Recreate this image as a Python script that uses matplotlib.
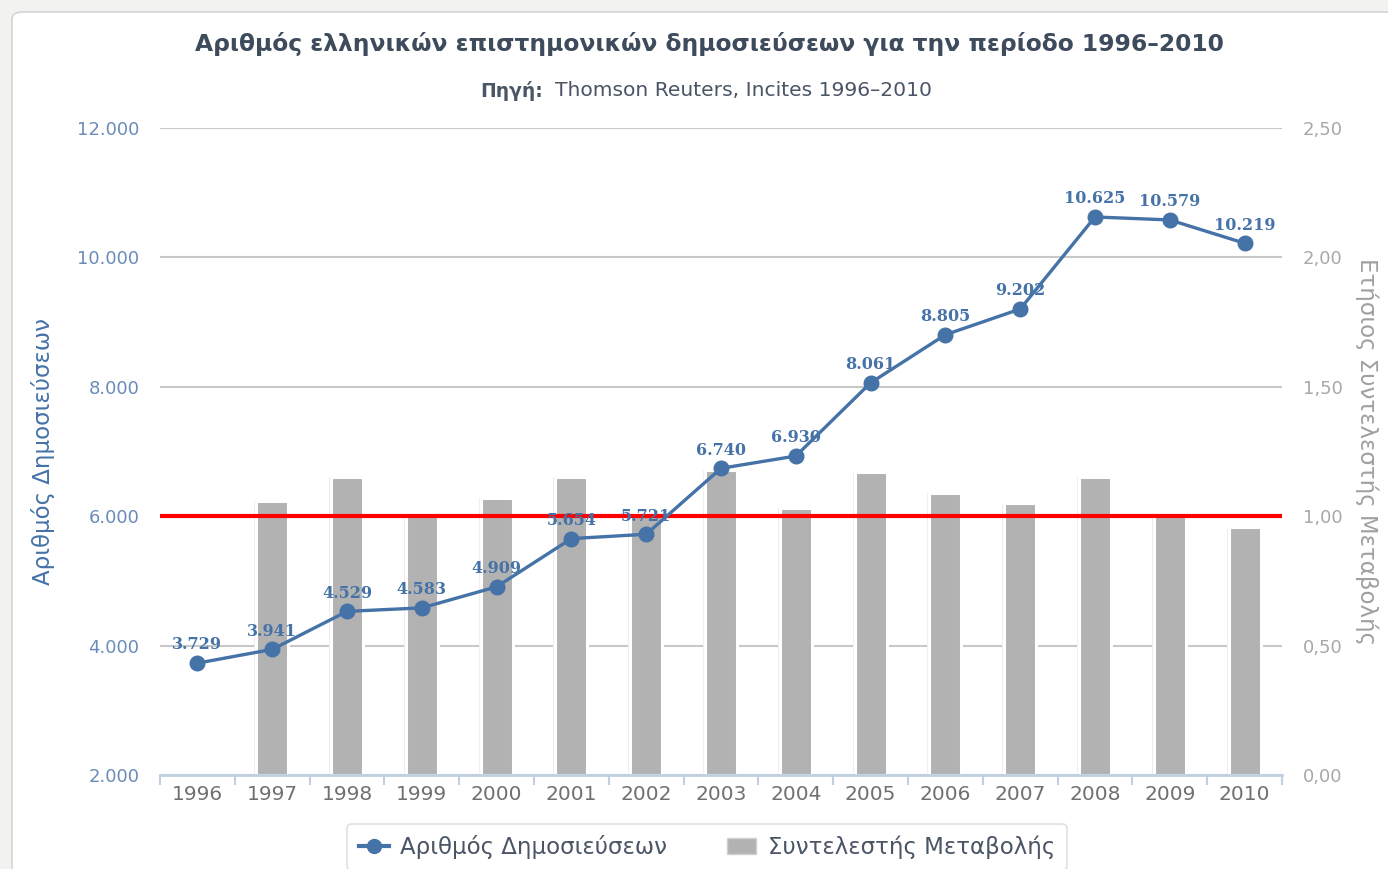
import matplotlib
matplotlib.use("Agg")
import matplotlib.pyplot as plt
from matplotlib.patches import FancyBboxPatch
from matplotlib.lines import Line2D
from matplotlib.patches import Patch
from matplotlib.ticker import FuncFormatter

years = ["1996", "1997", "1998", "1999", "2000", "2001", "2002", "2003",
         "2004", "2005", "2006", "2007", "2008", "2009", "2010"]
publications = [3729, 3941, 4529, 4583, 4909, 5654, 5721, 6740,
                6930, 8061, 8805, 9202, 10625, 10579, 10219]
# annual change coefficient (no bar for the first year)
change = [None, 1.06, 1.15, 1.01, 1.07, 1.15, 1.01, 1.18,
          1.03, 1.17, 1.09, 1.05, 1.15, 1.00, 0.96]
baseline = 1.0

BLUE = "#4572a7"
GREY_BAR = "#b3b2b2"

plt.rcParams["font.family"] = ["DejaVu Sans"]

fig = plt.figure(figsize=(13.88, 8.69), dpi=100)
fig.patch.set_facecolor("#f2f2f0")
panel = FancyBboxPatch((12 / 1388, -0.1), 1.1, (869 - 12) / 869 + 0.1,
                       boxstyle="round,pad=0,rounding_size=0.008",
                       transform=fig.transFigure, facecolor="white",
                       edgecolor="#d4d4d4", linewidth=1.2, zorder=-5)
fig.patches.append(panel)

ax2 = fig.add_axes([160 / 1388, 1 - 775 / 869, 1122 / 1388, 647 / 869])
ax = ax2.twinx()  # line axis on top
ax2.set_zorder(1)
ax.set_zorder(2)
ax2.patch.set_visible(False)
ax.patch.set_visible(False)
ax.yaxis.tick_left()
ax.yaxis.set_label_position("left")
ax2.yaxis.tick_right()
ax2.yaxis.set_label_position("right")

x = list(range(len(years)))

# right axis: gridlines, bars, reference line
ax2.set_ylim(0, 2.5)
ax2.set_yticks([0, 0.5, 1.0, 1.5, 2.0, 2.5])
ax2.grid(axis="y", color="#c8c8c8", linewidth=1.5, zorder=0)
ax2.set_axisbelow(True)
bx = [i for i, v in enumerate(change) if v is not None]
bv = [v for v in change if v is not None]
ax2.bar(bx, bv, width=0.48, color="#eeeeee", edgecolor="none", zorder=1)  # soft shadow
ax2.bar(bx, bv, width=0.43, color=GREY_BAR, edgecolor="white", linewidth=2.2, zorder=2)
ax2.axhline(baseline, color="#ff0000", linewidth=3, zorder=3)
ax2.yaxis.set_major_formatter(FuncFormatter(lambda v, p: f"{v:.2f}".replace(".", ",")))
ax2.tick_params(axis="y", length=0, pad=15, labelsize=13, labelcolor="#a8a8a8")
ax2.set_ylabel("Ετήσιος Συντελεστής Μεταβολής", rotation=270, color="#a0a0a0",
               fontsize=16.5, labelpad=28)
ax2.yaxis.set_label_coords(1.086, 0.5)

# left axis: publications line
ax.set_ylim(2000, 12000)
ax.set_yticks(range(2000, 12001, 2000))
ax.yaxis.set_major_formatter(FuncFormatter(lambda v, p: f"{int(v):,}".replace(",", ".")))
ax.tick_params(axis="y", length=0, pad=15, labelsize=13, labelcolor="#6a8cb8")
ax.set_ylabel("Αριθμός Δημοσιεύσεων", color=BLUE, fontsize=16.5)
ax.yaxis.set_label_coords(-0.094, 0.5)

ax.plot(x, publications, color=BLUE, linewidth=2.4, marker="o", markersize=10.5,
        markeredgecolor=BLUE, zorder=5, label="Αριθμός Δημοσιεύσεων")
for xi, v in zip(x, publications):
    ax.annotate(f"{v:,}".replace(",", "."), (xi, v), xytext=(0, 7),
                textcoords="offset points", ha="center", va="bottom",
                fontsize=11.5, fontweight="bold", color=BLUE,
                family=["DejaVu Serif"], zorder=6)

ax2.set_xlim(-0.5, len(years) - 0.5)
ax2.set_xticks(x)
ax2.set_xticklabels(years)
ax2.set_xticks([i + 0.5 for i in range(-1, len(years))], minor=True)
ax2.tick_params(axis="x", which="major", length=0, pad=7, labelsize=14.5, labelcolor="#707070")
ax2.tick_params(axis="x", which="minor", length=7, color="#c0d0e0", width=1.5)
for a in (ax, ax2):
    for name, s in a.spines.items():
        s.set_visible(False)
ax2.spines["bottom"].set_visible(True)
ax2.spines["bottom"].set_color("#c0d0e0")
ax2.spines["bottom"].set_linewidth(2)

fig.text(709 / 1388, 1 - 44 / 869, "Αριθμός ελληνικών επιστημονικών δημοσιεύσεων για την περίοδο 1996–2010",
         ha="center", va="center", fontsize=16.8, fontweight="bold", color="#3d4b5c")
fig.text(543 / 1388, 1 - 91 / 869, "Πηγή:", ha="right", va="center", fontsize=13.5,
         fontweight="bold", color="#4a5566")
fig.text(555 / 1388, 1 - 91 / 869, "Thomson Reuters, Incites 1996–2010", ha="left",
         va="center", fontsize=14.6, color="#4a5566")

handles = [Line2D([0], [0], color=BLUE, linewidth=3, marker="o", markersize=10),
           Patch(facecolor=GREY_BAR, edgecolor="#d0d0d0")]
leg = fig.legend(handles, ["Αριθμός Δημοσιεύσεων", "Συντελεστής Μεταβολής"],
                 loc="center", bbox_to_anchor=(707 / 1388, 1 - 847 / 869), ncol=2,
                 frameon=True, fancybox=True, fontsize=16.5, labelcolor="#4a5566",
                 handlelength=1.3, handletextpad=0.5, columnspacing=2.6,
                 borderpad=0.5, borderaxespad=0, edgecolor="#d8d8d8")
leg.get_frame().set_linewidth(1.2)

fig.savefig("out.png", dpi=100, facecolor=fig.get_facecolor())
